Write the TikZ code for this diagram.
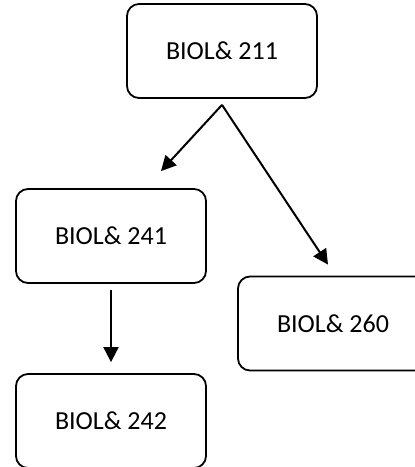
\documentclass[tikz,border=0pt]{standalone}
\usepackage{fontspec}
\setmainfont{Carlito}
\usetikzlibrary{arrows.meta}
\tikzset{course/.style={draw,line width=1.8pt,rounded corners=12pt,minimum width=190pt,minimum height=94pt,inner sep=0pt,font=\fontsize{26}{31}\selectfont},
  prereq/.style={line width=2pt,-{Triangle[length=15pt,width=15pt]}}}
\begin{document}
\begin{tikzpicture}
                    \useasboundingbox (0,0) rectangle (415pt,-467pt);
                    \clip (0,0) rectangle (415pt,-467pt);
                    \node[course] (n211) at (222pt,-51pt) {BIOL\& 211};
                    \node[course] (n241) at (111pt,-236pt) {BIOL\& 241};
                    \node[course] (n260) at (333pt,-323.5pt) {BIOL\& 260};
                    \node[course] (n242) at (111pt,-421pt) {BIOL\& 242};
                    \draw[prereq] ([yshift=-6pt]n211.south)--([xshift=50pt,yshift=17pt]n241.north);
                    \draw[prereq] ([yshift=-6pt]n211.south)--([xshift=-5pt,yshift=11pt]n260.north);
                    \draw[prereq] ([yshift=-6pt]n241.south)--([yshift=11pt]n242.north);
                \end{tikzpicture}
\end{document}
